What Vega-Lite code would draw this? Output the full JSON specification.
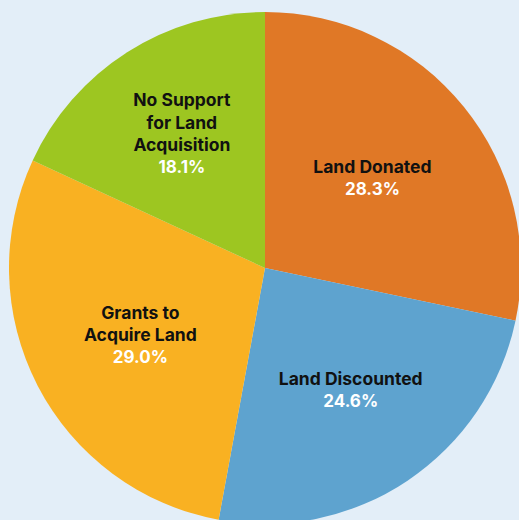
{
  "$schema": "https://vega.github.io/schema/vega-lite/v6.json",
  "width": 508,
  "height": 504,
  "autosize": {"type": "none"},
  "padding": {"left": 11, "top": 16, "right": 0, "bottom": 0},
  "background": "#e3eef8",
  "data": {
    "values": [
      {"category": "Land Donated", "label": "Land Donated", "share": 0.283, "order": 1},
      {"category": "Land Discounted", "label": "Land Discounted", "share": 0.246, "order": 2},
      {"category": "Grants to Acquire Land", "label": "Grants to\nAcquire Land", "share": 0.290, "order": 3},
      {"category": "No Support for Land Acquisition", "label": "No Support\nfor Land\nAcquisition", "share": 0.181, "order": 4}
    ]
  },
  "resolve": {"scale": {"theta": "independent"}},
  "layer": [
    {
      "mark": {"type": "arc", "outerRadius": 256, "stroke": null},
      "encoding": {
        "theta": {"field": "share", "type": "quantitative", "stack": true},
        "order": {"field": "order", "type": "quantitative"},
        "color": {
          "field": "category",
          "type": "nominal",
          "scale": {
            "domain": ["Land Donated", "Land Discounted", "Grants to Acquire Land", "No Support for Land Acquisition"],
            "range": ["#e07826", "#5ea3cf", "#f9b122", "#9dc621"]
          },
          "legend": null
        }
      }
    },
    {
      "mark": {"type": "text", "radius": 144, "font": "Inter", "fontWeight": "bold", "fontSize": 17.5, "fill": "#111111", "baseline": "bottom", "lineBreak": "\n", "lineHeight": 22.5, "dy": 5},
      "encoding": {
        "theta": {"field": "share", "type": "quantitative", "stack": true, "scale": {"range": [-0.047, 6.2362]}},
        "order": {"field": "order", "type": "quantitative"},
        "text": {"condition": {"test": "length(split(datum.label, '\\n')) == 1", "field": "label"}, "value": ""}
      }
    },
    {
      "mark": {"type": "text", "radius": 144, "font": "Inter", "fontWeight": "bold", "fontSize": 17.5, "fill": "#111111", "baseline": "bottom", "lineBreak": "\n", "lineHeight": 22.5, "dy": -17.5},
      "encoding": {
        "theta": {"field": "share", "type": "quantitative", "stack": true, "scale": {"range": [-0.047, 6.2362]}},
        "order": {"field": "order", "type": "quantitative"},
        "text": {"condition": {"test": "length(split(datum.label, '\\n')) == 2", "field": "label"}, "value": ""}
      }
    },
    {
      "mark": {"type": "text", "radius": 144, "font": "Inter", "fontWeight": "bold", "fontSize": 17.5, "fill": "#111111", "baseline": "bottom", "lineBreak": "\n", "lineHeight": 22.5, "dy": -40},
      "encoding": {
        "theta": {"field": "share", "type": "quantitative", "stack": true, "scale": {"range": [-0.047, 6.2362]}},
        "order": {"field": "order", "type": "quantitative"},
        "text": {"condition": {"test": "length(split(datum.label, '\\n')) == 3", "field": "label"}, "value": ""}
      }
    },
    {
      "mark": {"type": "text", "radius": 144, "font": "Inter", "fontWeight": "bold", "fontSize": 17, "fill": "#ffffff", "baseline": "top", "dy": 10},
      "encoding": {
        "theta": {"field": "share", "type": "quantitative", "stack": true, "scale": {"range": [-0.047, 6.2362]}},
        "order": {"field": "order", "type": "quantitative"},
        "text": {"field": "share", "type": "quantitative", "format": ".1%"}
      }
    }
  ]
}
